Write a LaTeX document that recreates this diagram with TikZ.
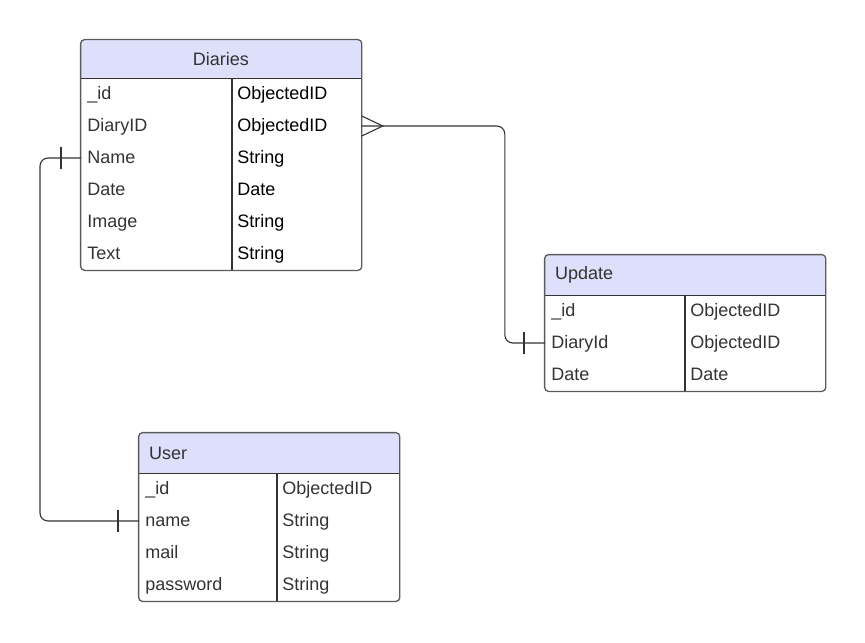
\documentclass[tikz,border=0pt]{standalone}
\usepackage{fontspec}
\setmainfont{Liberation Sans}
\definecolor{headcolor}{RGB}{222,223,250}
\definecolor{linecolor}{RGB}{51,51,51}
\definecolor{framecolor}{RGB}{90,90,90}
\definecolor{textcolor}{RGB}{51,51,51}

\begin{document}
\begin{tikzpicture}[
    x=0.5pt, y=-0.5pt,
    head/.style={fill=headcolor, rounded corners=2pt, inner xsep=5pt, inner ysep=0pt, text=textcolor, font=\fontsize{9}{11}\selectfont},
    row/.style={anchor=west, minimum height=16pt, inner xsep=3pt, inner ysep=0pt, text height=7pt, text depth=2pt, align=left, text=textcolor, font=\fontsize{9}{11}\selectfont},
    type/.style={anchor=west, minimum height=16pt, inner xsep=2.5pt, inner ysep=0pt, text height=7pt, text depth=2pt, text=textcolor, font=\fontsize{9}{11}\selectfont},
    frame/.style={draw=framecolor, line width=0.65pt, rounded corners=2pt},
    rule/.style={draw=linecolor, line width=0.55pt},
    link/.style={draw=linecolor, line width=0.55pt}
]
    \useasboundingbox (0,0) rectangle (865,642);

    % Diaries
    \fill[headcolor] (81,59) rectangle (361,78);
    \node[head, minimum width=140pt, minimum height=19pt] (dHead) at (221,59) {Diaries};
    \node[row, text width=134pt] (dId) at (81,94) {\_id};
    \node[row, text width=134pt] (dDiaryID) at (81,126) {DiaryID};
    \node[row, text width=134pt] (dName) at (81,158) {Name};
    \node[row, text width=134pt] (dDate) at (81,190) {Date};
    \node[row, text width=134pt] (dImage) at (81,222) {Image};
    \node[row, text width=134pt] (dText) at (81,254) {Text};
    \node[type, text=black] (dIdType) at (232,94) {ObjectedID};
    \node[type, text=black] (dDiaryIDType) at (232,126) {ObjectedID};
    \node[type, text=black] (dNameType) at (232,158) {String};
    \node[type, text=black] (dDateType) at (232,190) {Date};
    \node[type, text=black] (dImageType) at (232,222) {String};
    \node[type, text=black] (dTextType) at (232,254) {String};
    \draw[rule] (dHead.south west) -- (dHead.south east);
    \draw[rule] (dHead.south -| dIdType.west) -- (dText.south -| dIdType.west);
    \draw[frame] (dHead.north west) rectangle (dText.south east);

    % Update
    \fill[headcolor] (545,275) rectangle (825,295);
    \node[head, text width=130pt, align=left, minimum height=20pt] (upHead) at (685,275) {Update};
    \node[row, text width=134pt] (upId) at (545,311) {\_id};
    \node[row, text width=134pt] (upDiaryId) at (545,343) {DiaryId};
    \node[row, text width=134pt] (upDate) at (545,375) {Date};
    \node[type] (upIdType) at (685,311) {ObjectedID};
    \node[type] (upDiaryIdType) at (685,343) {ObjectedID};
    \node[type] (upDateType) at (685,375) {Date};
    \draw[rule] (upHead.south west) -- (upHead.south east);
    \draw[rule] (upHead.south -| upIdType.west) -- (upDate.south -| upIdType.west);
    \draw[frame] (upHead.north west) rectangle (upDate.south east);

    % User
    \fill[headcolor] (139,453) rectangle (399,473);
    \node[head, text width=120pt, align=left, minimum height=20pt] (usHead) at (269,453) {User};
    \node[row, text width=124pt] (usId) at (139,489) {\_id};
    \node[row, text width=124pt] (usName) at (139,521) {name};
    \node[row, text width=124pt] (usMail) at (139,553) {mail};
    \node[row, text width=124pt] (usPassword) at (139,585) {password};
    \node[type] (usIdType) at (277,489) {ObjectedID};
    \node[type] (usNameType) at (277,521) {String};
    \node[type] (usMailType) at (277,553) {String};
    \node[type] (usPasswordType) at (277,585) {String};
    \draw[rule] (usHead.south west) -- (usHead.south east);
    \draw[rule] (usHead.south -| usIdType.west) -- (usPassword.south -| usIdType.west);
    \draw[frame] (usHead.north west) rectangle (usPassword.south east);

    % Connectors
    \draw[link, rounded corners=4pt] (dDiaryID.east) -- ++(143,0) |- (upDiaryId.west);
    \draw[link] ([shift={(0,-10)}]dDiaryID.east) -- ([shift={(21,0)}]dDiaryID.east) -- ([shift={(0,10)}]dDiaryID.east);
    \draw[link] ([shift={(-21,-11)}]upDiaryId.west) -- ([shift={(-21,11)}]upDiaryId.west);

    \draw[link, rounded corners=4pt] (dName.west) -- ++(-41,0) |- (usName.west);
    \draw[link] ([shift={(-20,-11)}]dName.west) -- ([shift={(-20,11)}]dName.west);
    \draw[link] ([shift={(-21,-11)}]usName.west) -- ([shift={(-21,11)}]usName.west);
\end{tikzpicture}
\end{document}
